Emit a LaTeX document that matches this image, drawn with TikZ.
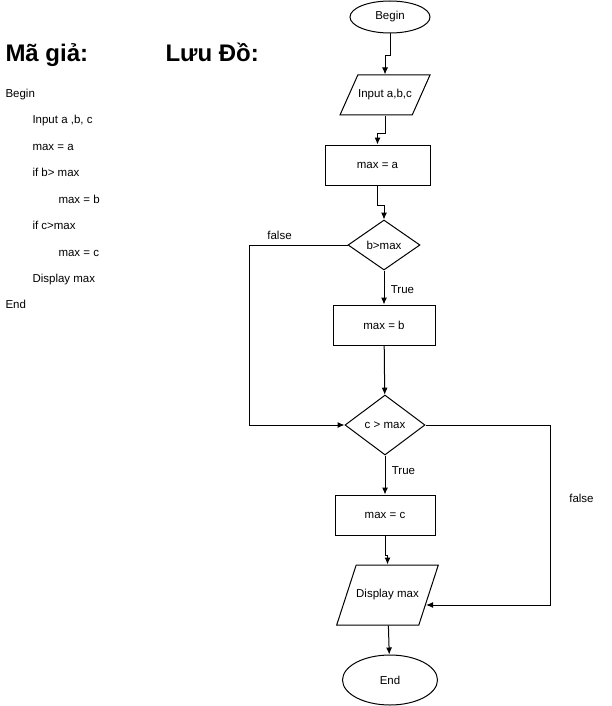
\documentclass[tikz,border=0pt]{standalone}
\usepackage{fontspec}
\setmainfont{Liberation Sans}
\usetikzlibrary{shapes.geometric,arrows.meta}
\begin{document}
\begin{tikzpicture}[x=1pt,y=-1pt,line width=1pt,>={Latex[length=7pt,width=6pt]},
    font=\fontsize{11.5}{13}\selectfont]
  \tikzstyle{term}=[ellipse,draw,inner sep=0pt]
  \tikzstyle{proc}=[rectangle,draw,minimum height=40pt,inner sep=0pt]
  \tikzstyle{io}=[trapezium,draw,trapezium stretches body=true,inner xsep=0pt,text height=8pt,text depth=3pt]
  \tikzstyle{cond}=[diamond,draw,inner sep=0pt]
  \tikzstyle{code}=[anchor=west,inner sep=0pt,text height=13pt,text depth=2.5pt]
  \useasboundingbox (0,0) rectangle (611,706);
  % tieu de
  \node[code, font=\bfseries\fontsize{24}{28}\selectfont, text height=17pt, text depth=5pt] (T_1) at (5,56) {Mã giả:};
  \node[code, font=\bfseries\fontsize{24}{28}\selectfont, text height=17pt, text depth=5pt] (T_2) at (165,56) {Lưu Đồ:};
  % ma gia
  \node[code] (P_1) at (5,92)  {Begin};
  \node[code] (P_2) at (32,118) {Input a ,b, c};
  \node[code] (P_3) at (32,145) {max = a};
  \node[code] (P_4) at (32,171) {if b> max};
  \node[code] (P_5) at (58,198) {max = b};
  \node[code] (P_6) at (32,224) {if c>max};
  \node[code] (P_7) at (58,251) {max = c};
  \node[code] (P_8) at (32,277) {Display max};
  \node[code] (P_9) at (5,303) {End};
  % luu do
  \node[term, minimum width=80pt, minimum height=32pt] (begin) at (390,17) {Begin};
  \node[io, minimum width=90pt, inner ysep=14.5pt, trapezium left angle=66, trapezium right angle=114] (input) at (385,95) {Input a,b,c};
  \node[proc, minimum width=105pt] (maxa) at (377.5,165) {max = a};
  \node[cond, minimum width=72pt, minimum height=50pt] (bmax) at (384,245) {b>max};
  \node[proc, minimum width=102pt] (maxb) at (384,325) {max = b};
  \node[cond, minimum width=80pt, minimum height=60pt] (cmax) at (385,425) {c > max};
  \node[proc, minimum width=100pt] (maxc) at (385,515) {max = c};
  \node[io, minimum width=99pt, inner ysep=24.5pt, trapezium left angle=72, trapezium right angle=108] (disp) at (387.5,595) {Display max};
  \node[term, minimum width=95pt, minimum height=50pt] (end) at (390,680) {End};
  \draw [->] (begin.south) -- ++(0,22) -| (input.north);
  \draw [->] (input.south) -- ++(0,18) -| (maxa.north);
  \draw [->] (maxa.south) -- ++(0,20) -| (bmax.north);
  \draw [->] (bmax) -- node[right=3pt, pos=0.55] {True} (maxb);
  \draw [->] (maxb) -- (cmax);
  \draw [->] (bmax.west) -- ++(-98,0) node[xshift=30pt, yshift=10pt] {false} |- (cmax.west);
  \draw [->] (cmax) -- node[right=3pt, pos=0.38] {True} (maxc);
  \draw [->] (maxc.south) -- ++(0,20) -| (disp.north);
  \draw [->] (cmax.east) -- ++(125,0) |- node[pos=0.205, right=15pt] {false} ([xshift=-3pt,yshift=-10pt]disp.east);
  \draw [->] (disp) -- (end);
\end{tikzpicture}
\end{document}
